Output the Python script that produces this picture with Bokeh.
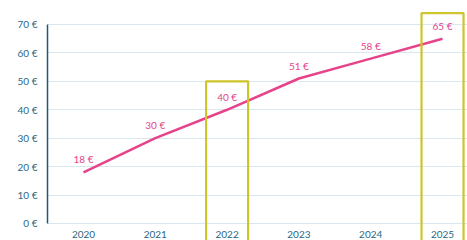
from bokeh.plotting import figure
from bokeh.models import ColumnDataSource, FixedTicker, PrintfTickFormatter, Range1d
from bokeh.core.properties import value
from bokeh.embed import file_html
from bokeh.resources import INLINE

# data
years = [2020, 2021, 2022, 2023, 2024, 2025]
prices = [18, 30, 40, 51, 58, 65]
price_labels = ["18 €", "30 €", "40 €", "51 €", "58 €", "65 €"]
year_labels = ["2020", "2021", "2022", "2023", "2024", "2025"]
y_ticks = [0, 10, 20, 30, 40, 50, 60, 70]
highlight_years = [2022, 2025]
highlight_tops = [50, 74]

FONT = "Lato"
TEAL = "#2c6783"
PINK = "#e6438a"
OLIVE = "#ccc52c"
GRID = "#dbe7ee"

p = figure(width=467, height=240, output_backend="svg", toolbar_location=None,
           x_axis_location=None, y_axis_location="left",
           x_range=Range1d(2019.4986, 2025.348), y_range=Range1d(-5.98, 78.44),
           min_border_left=47, min_border_right=0, min_border_top=0, min_border_bottom=0)
p.outline_line_color = None
p.background_fill_color = "white"
p.border_fill_color = "white"

ax = p.yaxis[0]
ax.ticker = FixedTicker(ticks=y_ticks)
ax.formatter = PrintfTickFormatter(format="%d €")
ax.bounds = (0, 70)
ax.major_tick_line_color = None
ax.minor_tick_line_color = None
ax.major_tick_in = 0
ax.major_tick_out = 0
ax.major_label_standoff = 10
ax.axis_line_color = "#1f5a72"
ax.axis_line_width = 1.5
ax.major_label_text_font = FONT
ax.major_label_text_font_size = "10px"
ax.major_label_text_color = TEAL

p.xgrid.visible = False
p.ygrid.ticker = FixedTicker(ticks=y_ticks)
p.ygrid.grid_line_color = GRID
p.ygrid.grid_line_width = 1

src = ColumnDataSource(dict(x=years, y=prices, t=price_labels, yl=year_labels,
                            zero=[0] * len(years)))
hsrc = ColumnDataSource(dict(x=highlight_years, top=highlight_tops,
                             left=[v - 0.2925 for v in highlight_years],
                             right=[v + 0.2925 for v in highlight_years],
                             bottom=[-20] * len(highlight_years)))

p.line("x", "y", source=src, line_color=PINK, line_width=2.5)
p.quad(left="left", right="right", top="top", bottom="bottom", source=hsrc,
       fill_color=None, line_color=OLIVE, line_width=2.2)
p.text("x", "y", text="t", source=src, text_align="center", text_baseline="bottom",
       y_offset=-7, text_font=value(FONT), text_font_size="10px", text_color=PINK)
p.text("x", "zero", text="yl", source=src, text_align="center", text_baseline="top",
       y_offset=8, text_font=value(FONT), text_font_size="10px", text_color=TEAL)

open("out.html", "w").write(file_html(p, INLINE))
